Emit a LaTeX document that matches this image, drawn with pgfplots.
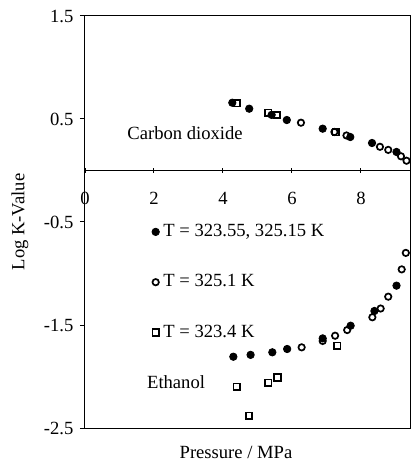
\documentclass[border=0pt]{standalone}
\usepackage{pgfplots}
\pgfplotsset{compat=1.18}
\usepackage{fontspec}
\setmainfont{Liberation Serif}
\begin{document}
\fontsize{9.3}{11}\selectfont
\begin{tikzpicture}
\pgfplotsset{
  common/.style={
    width=163pt, height=206pt, scale only axis,
    xmin=0, xmax=9.45, ymin=-2.5, ymax=1.5,
    /pgf/number format/assume math mode=true,
    tick style={black, line width=0.5pt},
    major tick length=2.5pt,
    tick align=outside,
    clip=false,
    ticklabel style={font=\fontsize{9.3}{11}\selectfont},
  }
}
\begin{axis}[common,
  axis line style={line width=0.5pt},
  xtick=\empty,
  ytick={-2.5,-1.5,-0.5,0.5,1.5},
  yticklabels={-2.5,-1.5,-0.5,0.5,1.5},
  ytick pos=left,
  legend style={at={(axis cs:1.93,-0.48)}, anchor=north west, draw=none, fill=none,
    row sep=13.6pt, font=\fontsize{9.3}{11}\selectfont, inner sep=0pt,
    nodes={inner xsep=2pt}},
  legend cell align=left,
  legend image code/.code={\draw[mark repeat=2,mark phase=2] plot coordinates {(0pt,0pt) (2pt,0pt) (4pt,0pt)};},
]
\addplot[only marks, mark=*, mark size=1.85pt, mark options={fill=black, draw=black}] coordinates {
(4.27,0.658) (4.76,0.60) (5.41,0.54) (5.85,0.49) (6.89,0.406) (7.69,0.325) (8.32,0.267) (9.03,0.18)
(4.30,-1.808) (4.80,-1.79) (5.43,-1.765) (5.86,-1.733) (6.89,-1.63) (7.70,-1.507) (8.39,-1.364) (9.03,-1.118)
};
\addlegendentry{T = 323.55, 325.15 K}
\addplot[only marks, mark=o, mark size=1.6pt, mark options={draw=black, line width=0.85pt, fill=white}] coordinates {
(6.26,0.464) (7.23,0.374) (7.58,0.34) (8.55,0.23) (8.79,0.20) (9.16,0.138) (9.32,0.095)
(6.28,-1.717) (6.89,-1.655) (7.25,-1.604) (7.60,-1.549) (8.33,-1.425) (8.57,-1.34) (8.79,-1.225) (9.18,-0.96) (9.30,-0.80)
};
\addlegendentry{T = 325.1 K}
\addplot[only marks, mark=square, mark size=1.6pt, mark options={draw=black, line width=0.85pt, fill=white}] coordinates {
(4.40,0.652) (5.31,0.56) (5.57,0.54) (7.27,0.37)
(4.40,-2.10) (4.75,-2.38) (5.31,-2.06) (5.58,-2.01) (7.31,-1.70)
};
\addlegendentry{T = 323.4 K}
\node at (axis cs:2.90,0.364) {Carbon dioxide};
\node at (axis cs:2.64,-2.05) {Ethanol};
\end{axis}
\begin{axis}[common,
  axis x line=middle, axis y line=none,
  x axis line style={-, line width=0.5pt},
  xtick={0,2,4,6,8},
  xticklabels={0,2,4,6,8},
  hide obscured x ticks=false,
  ytick=\empty,
  xticklabel style={anchor=north, yshift=-6.5pt},
]
\end{axis}
\node[rotate=90] at ([xshift=-32.5pt]current axis.west) {Log K-Value};
\node at ([xshift=-6pt,yshift=-12pt]current axis.south) {Pressure / MPa};
\pgfresetboundingbox
\path[use as bounding box] (-42.5pt,-16.5pt) rectangle (163.5pt,214pt);
\end{tikzpicture}
\end{document}
